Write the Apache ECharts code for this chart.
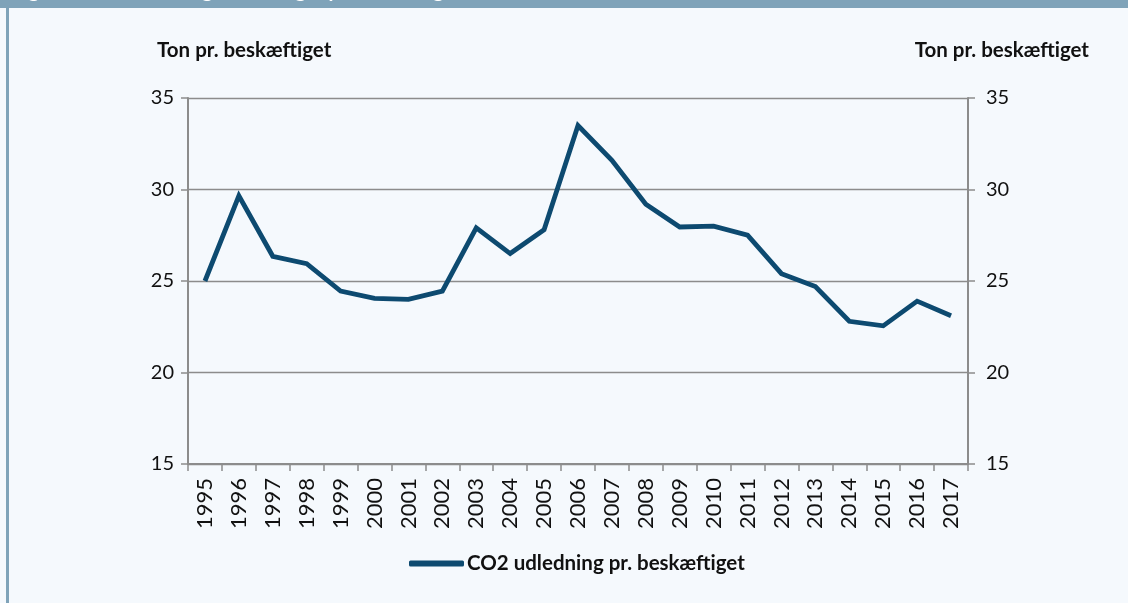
<!DOCTYPE html>
<html>
<head>
<meta charset="utf-8">
<script src="https://cdn.jsdelivr.net/npm/echarts@6/dist/echarts.min.js"></script>
<style>
html,body{margin:0;padding:0;background:#f5f9fd;}
#c{width:1128px;height:603px;}
</style>
</head>
<body>
<div id="c"></div>
<script>
const years = ['1995','1996','1997','1998','1999','2000','2001','2002','2003','2004','2005','2006','2007','2008','2009','2010','2011','2012','2013','2014','2015','2016','2017'];
const co2PerEmployee = [25.0,29.65,26.35,25.95,24.45,24.05,24.0,24.45,27.9,26.5,27.8,33.5,31.6,29.2,27.95,28.0,27.5,25.4,24.7,22.8,22.55,23.9,23.1];
const seriesName = 'CO2 udledning pr. beskæftiget';
const axisTitle = 'Ton pr. beskæftiget';
const headerTitle = 'Figur 3: CO₂ udledning i landbruget pr. beskæftiget';

const chart = echarts.init(document.getElementById('c'));
const gray = '#8c8c8c';
const font = 'Lato, "Open Sans", sans-serif';
const yAxisBase = {
  type: 'value', min: 15, max: 35, interval: 5,
  axisLine: {show: true, lineStyle: {color: gray, width: 2}},
  axisTick: {show: true, length: 7, lineStyle: {color: gray, width: 1.5}},
  splitLine: {show: false},
  axisLabel: {color: '#111', fontSize: 20, fontFamily: font}
};
chart.setOption({
  backgroundColor: '#f5f9fd',
  animation: false,
  graphic: [
    {type: 'rect', shape: {x: 0, y: 0, width: 1128, height: 8}, style: {fill: '#7fa3b9'}},
    {type: 'rect', shape: {x: 6, y: 8, width: 3, height: 595}, style: {fill: '#7fa3b9'}},
    {type: 'text', left: 12, top: -19, style: {text: headerTitle, fill: '#ffffff', font: 'bold 20px ' + font}, z: 10},
    {type: 'text', left: 157, top: 40, style: {text: axisTitle, fill: '#111', font: 'bold 20.5px ' + font}},
    {type: 'text', right: 39, top: 40, style: {text: axisTitle, fill: '#111', font: 'bold 20.5px ' + font}}
  ],
  grid: {left: 188, right: 160, top: 98, bottom: 139},
  legend: {
    data: [{name: seriesName, icon: 'roundRect'}],
    bottom: 24, left: 404,
    itemWidth: 55, itemHeight: 6, itemGap: 10,
    textStyle: {color: '#111', fontSize: 20.5, fontWeight: 'bold', fontFamily: font, padding: [0, 0, 0, -2]}
  },
  xAxis: {
    type: 'category', data: years, boundaryGap: true,
    axisLine: {lineStyle: {color: gray, width: 2}},
    axisTick: {show: true, length: 7, alignWithLabel: false, lineStyle: {color: gray, width: 1.5}},
    axisLabel: {rotate: 90, interval: 0, margin: 14, color: '#111', fontSize: 22, fontFamily: font}
  },
  yAxis: [
    Object.assign({}, yAxisBase, {position: 'left', splitLine: {show: true, lineStyle: {color: gray, width: 1.3}}, axisLabel: Object.assign({}, yAxisBase.axisLabel, {margin: 14})}),
    Object.assign({}, yAxisBase, {position: 'right', axisLabel: Object.assign({}, yAxisBase.axisLabel, {margin: 18})})
  ],
  series: [{
    name: seriesName, type: 'line', data: co2PerEmployee, yAxisIndex: 0,
    symbol: 'none', lineStyle: {color: '#0d4a70', width: 4.8, join: 'miter'},
    itemStyle: {color: '#0d4a70'}
  }]
});
</script>
</body>
</html>
